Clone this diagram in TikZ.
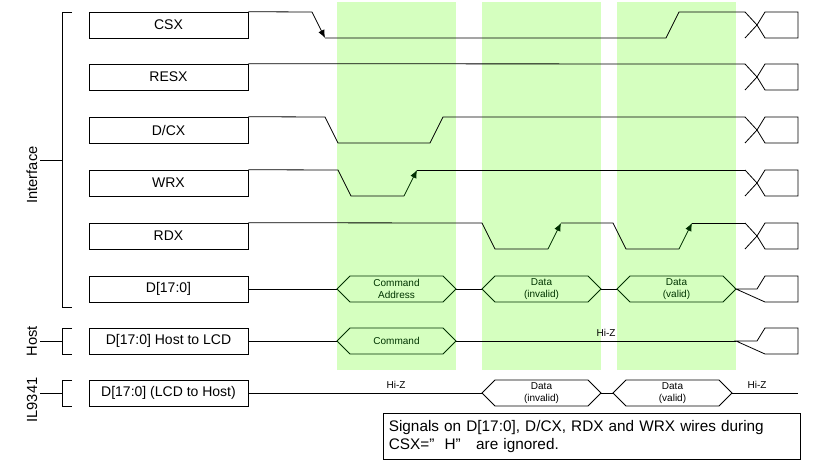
\documentclass[tikz,border=0pt]{standalone}
\usepackage{fontspec}
\setmainfont{Liberation Sans}
\usetikzlibrary{arrows.meta}
\tikzset{
  sig/.style={draw, minimum width=119.25pt, minimum height=19.5pt, inner sep=0pt, font=\fontsize{10.5}{12}\selectfont},
  wave/.style={line width=0.6pt, black},
  gwave/.style={line width=0.6pt, black!70!green!60!black},
  band/.style={fill=green!55!lime!25!white, draw=none},
  bus/.style={font=\fontsize{7.5}{8.5}\selectfont, text=black!60!green!50!black, align=center},
  wbus/.style={font=\fontsize{7.5}{8.5}\selectfont, align=center},
  tip/.style={-{Latex[length=6pt,width=5pt]}}
}
\begin{document}
\begin{tikzpicture}[x=0.75pt, y=-0.75pt]
	\useasboundingbox (0,0) rectangle (816,467);
	% bandes vertes
	\foreach \a/\b in {337/456, 482/601, 617/736}
		\fill[band] (\a,2) rectangle (\b,370);
	% boites des signaux
	\node[sig] (csx) at (168.5,25) {CSX};
	\node[sig] (resx) at (168.5,77) {RESX};
	\node[sig] (dcx) at (168.5,130) {D/CX};
	\node[sig] (wrx) at (168.5,183) {WRX};
	\node[sig] (rdx) at (168.5,236) {RDX};
	\node[sig] (dat) at (168.5,289) {D[17:0]};
	\node[sig] (hst) at (168.5,341) {D[17:0] Host to LCD};
	\node[sig] (lcd) at (168.5,393) {D[17:0] (LCD to Host)};
	% accolades a gauche
	\draw[wave] (72,12) -- (62,12) -- (62,307) -- (72,307)  (62,160) -- (40,160);
	\draw[wave] (72,328) -- (62,328) -- (62,354) -- (72,354)  (62,341) -- (40,341);
	\draw[wave] (72,380) -- (62,380) -- (62,406) -- (72,406)  (62,393) -- (40,393);
	\node[rotate=90, font=\fontsize{11}{12}\selectfont] at (32,175) {Interface};
	\node[rotate=90, font=\fontsize{11}{12}\selectfont] at (32,341) {Host};
	\node[rotate=90, font=\fontsize{11}{12}\selectfont] at (32,400) {IL9341};
	% CSX
	\draw[wave] (csx.north east) -- (312,12);
	\draw[wave, tip] (312,12) -- (325,38);
	\draw[wave] (325,38) -- (666,38) -- (679,12) -- (745,12);
	% RESX
	\draw[wave] (resx.north east) -- (745,64);
	% D/CX
	\draw[wave] (dcx.north east) -- (325,117) -- (338,143) -- (430,143) -- (443,117) -- (745,117);
	% WRX
	\draw[wave] (wrx.north east) -- (338,170) -- (351,196) -- (404,196);
	\draw[gwave, tip] (404,196) -- (417,170);
	\draw[wave] (417,170) -- (745,170);
	% RDX
	\draw[wave] (rdx.north east) -- (482,223) -- (495,249) -- (548,249);
	\draw[gwave, tip] (548,249) -- (561,223);
	\draw[wave] (561,223) -- (613,223) -- (626,249) -- (679,249);
	\draw[gwave, tip] (679,249) -- (692,223);
	\draw[wave] (692,223) -- (745,223);
	% fins de ligne
	\foreach \y in {25,77,130,183,236} {
		\draw[wave] (745,\y-13) -- (757,\y) -- (765,\y-13) -- (798,\y-13) -- (798,\y+13) -- (765,\y+13) -- (757,\y) -- (745,\y+13);
	}
	\foreach \y in {289,341}
		\draw[wave] (736,\y) -- (757,\y) -- (765,\y-13) -- (798,\y-13) -- (798,\y+13) -- (765,\y+13) -- cycle;
	% bus D[17:0]
	\draw[wave] (dat.east) -- (337,289) (456,289) -- (482,289) (601,289) -- (617,289);
	\foreach \a/\b/\t in {337/456/{Command\\Address}, 482/601/{Data\\(invalid)}, 617/736/{Data\\(valid)}} {
		\draw[gwave] (\a,289) -- (\a+13,276) -- (\b-13,276) -- (\b,289) -- (\b-13,302) -- (\a+13,302) -- cycle;
		\node[bus] at ({(\a+\b)/2},289) {\t};
	}
	% Host to LCD
	\draw[wave] (hst.east) -- (337,341) (456,341) -- (736,341);
	\draw[gwave] (337,341) -- (350,328) -- (443,328) -- (456,341) -- (443,354) -- (350,354) -- cycle;
	\node[bus] at (396.5,341) {Command};
	\node[wbus] at (606,333) {Hi-Z};
	% LCD to Host
	\draw[wave] (lcd.east) -- (482,393) (601,393) -- (613,393) (732,393) -- (798,393);
	\foreach \a/\b/\t in {482/601/{Data\\(invalid)}, 613/732/{Data\\(valid)}} {
		\draw[wave] (\a,393) -- (\a+13,380) -- (\b-13,380) -- (\b,393) -- (\b-13,406) -- (\a+13,406) -- cycle;
		\node[wbus] at ({(\a+\b)/2},393) {\t};
	}
	\node[wbus] at (396,385) {Hi-Z};
	\node[wbus] at (757,385) {Hi-Z};
	% remarque
	\node[draw, line width=0.6pt, minimum width=312.75pt, minimum height=35pt, inner sep=4pt, align=left, text width=304pt, font=\fontsize{11.5}{13}\selectfont] (note) at (591.5,436.5) {Signals on D[17:0], D/CX, RDX and WRX wires during CSX=''\ \ H''\ \ \ are ignored.};
\end{tikzpicture}
\end{document}
